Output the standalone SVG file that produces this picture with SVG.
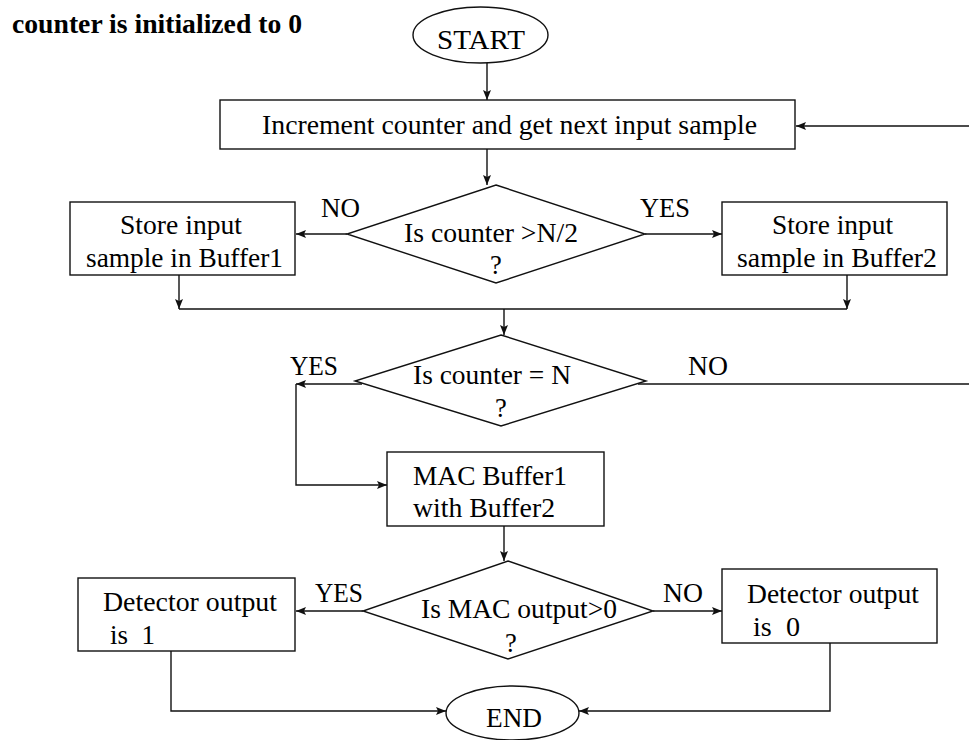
<svg xmlns="http://www.w3.org/2000/svg" width="969" height="740" viewBox="0 0 969 740">
<style>
  .shape { fill: #fff; stroke: #111; stroke-width: 1.4; }
  .conn { fill: none; stroke: #111; stroke-width: 1.4; }
  text { font-family: "Liberation Serif", "Times New Roman", serif; font-size: 26.5px; fill: #000; }
  .bold { font-weight: bold; }
  .mid { text-anchor: middle; }
</style>
<defs>
  <marker id="arr" viewBox="0 0 10 8" refX="10" refY="4" markerWidth="10" markerHeight="8" markerUnits="userSpaceOnUse" orient="auto">
    <path d="M0,0 L10,4 L0,8 L2,4 Z" fill="#111"/>
  </marker>
</defs>
<rect width="969" height="740" fill="#fff"/>

<text class="bold" x="12" y="33" textLength="290" lengthAdjust="spacingAndGlyphs">counter is initialized to 0</text>

<g id="connectors">
  <path class="conn" d="M487,63 V100" marker-end="url(#arr)"/>
  <path class="conn" d="M969,126 H796" marker-end="url(#arr)"/>
  <path class="conn" d="M487,149 V185" marker-end="url(#arr)"/>
  <path class="conn" d="M347,234 H296" marker-end="url(#arr)"/>
  <path class="conn" d="M645,234 H722" marker-end="url(#arr)"/>
  <path class="conn" d="M179,275 V309" marker-end="url(#arr)"/>
  <path class="conn" d="M847,275 V309" marker-end="url(#arr)"/>
  <path class="conn" d="M179,309 H847"/>
  <path class="conn" d="M504,309 V335" marker-end="url(#arr)"/>
  <path class="conn" d="M638,384 H969"/>
  <path class="conn" d="M362,384 H296" marker-end="url(#arr)"/>
  <path class="conn" d="M296,384 V485 H387" marker-end="url(#arr)"/>
  <path class="conn" d="M504,526 V561" marker-end="url(#arr)"/>
  <path class="conn" d="M363,611 H296" marker-end="url(#arr)"/>
  <path class="conn" d="M653,611 H722" marker-end="url(#arr)"/>
  <path class="conn" d="M171,651 V711 H446" marker-end="url(#arr)"/>
  <path class="conn" d="M830,643 V711 H579" marker-end="url(#arr)"/>
  <text x="321" y="217" textLength="39" lengthAdjust="spacingAndGlyphs">NO</text>
  <text x="640" y="217" textLength="50" lengthAdjust="spacingAndGlyphs">YES</text>
  <text x="290" y="375" textLength="48" lengthAdjust="spacingAndGlyphs">YES</text>
  <text x="688" y="375" textLength="40" lengthAdjust="spacingAndGlyphs">NO</text>
  <text x="315" y="602" textLength="48" lengthAdjust="spacingAndGlyphs">YES</text>
  <text x="663" y="602" textLength="40" lengthAdjust="spacingAndGlyphs">NO</text>
</g>

<g id="start">
  <ellipse class="shape" cx="480.5" cy="35" rx="67.5" ry="28"/>
  <text x="437" y="49" textLength="88" lengthAdjust="spacingAndGlyphs">START</text>
</g>

<g id="increment">
  <rect class="shape" x="220" y="100" width="575" height="49"/>
  <text x="262" y="134" textLength="495" lengthAdjust="spacingAndGlyphs">Increment counter and get next input sample</text>
</g>

<g id="decision-half">
  <polygon class="shape" points="496,185 645,234 496,283 347,234"/>
  <text x="404" y="242" textLength="174" lengthAdjust="spacingAndGlyphs">Is counter &gt;N/2</text>
  <text class="mid" x="496" y="274">?</text>
</g>

<g id="store-buffer1">
  <rect class="shape" x="70" y="202" width="225" height="73"/>
  <text x="120" y="234" textLength="122" lengthAdjust="spacingAndGlyphs">Store input</text>
  <text x="86" y="267" textLength="197" lengthAdjust="spacingAndGlyphs">sample in Buffer1</text>
</g>

<g id="store-buffer2">
  <rect class="shape" x="722" y="202" width="225" height="73"/>
  <text x="772" y="234" textLength="121" lengthAdjust="spacingAndGlyphs">Store input</text>
  <text x="737" y="267" textLength="200" lengthAdjust="spacingAndGlyphs">sample in Buffer2</text>
</g>

<g id="decision-n">
  <polygon class="shape" points="501,335 646,381 501,426 355,381"/>
  <text x="413" y="384" textLength="158" lengthAdjust="spacingAndGlyphs">Is counter = N</text>
  <text class="mid" x="501" y="417">?</text>
</g>

<g id="mac">
  <rect class="shape" x="387" y="452" width="217" height="74"/>
  <text x="413" y="485" textLength="154" lengthAdjust="spacingAndGlyphs">MAC Buffer1</text>
  <text x="413" y="517" textLength="142" lengthAdjust="spacingAndGlyphs">with Buffer2</text>
</g>

<g id="decision-mac">
  <polygon class="shape" points="508,561 653,611 508,659 363,611"/>
  <text x="421" y="618" textLength="196" lengthAdjust="spacingAndGlyphs">Is MAC output&gt;0</text>
  <text class="mid" x="511" y="652">?</text>
</g>

<g id="detector-1">
  <rect class="shape" x="78" y="578" width="217" height="73"/>
  <text x="103" y="611" textLength="174" lengthAdjust="spacingAndGlyphs">Detector output</text>
  <text x="110" y="644" xml:space="preserve" textLength="45" lengthAdjust="spacingAndGlyphs">is  1</text>
</g>

<g id="detector-0">
  <rect class="shape" x="722" y="569" width="215" height="74"/>
  <text x="747" y="603" textLength="172" lengthAdjust="spacingAndGlyphs">Detector output</text>
  <text x="753" y="636" xml:space="preserve" textLength="47" lengthAdjust="spacingAndGlyphs">is  0</text>
</g>

<g id="end">
  <ellipse class="shape" cx="512.5" cy="713" rx="66.5" ry="27"/>
  <text x="486" y="727" textLength="56" lengthAdjust="spacingAndGlyphs">END</text>
</g>
</svg>
